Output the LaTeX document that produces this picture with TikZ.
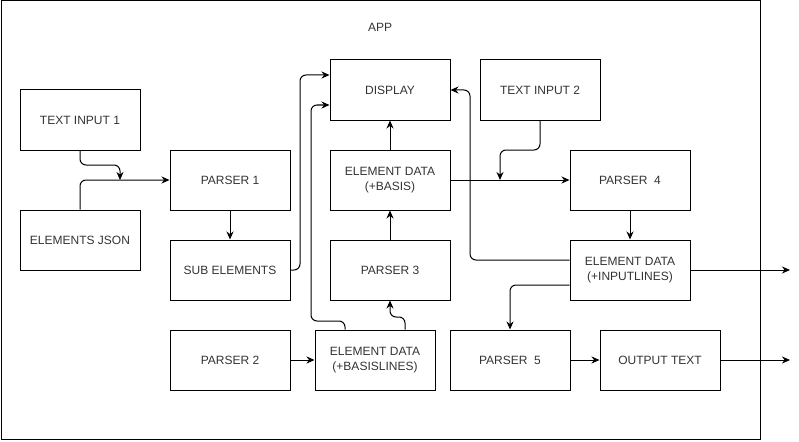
\documentclass[tikz,border=0pt]{standalone}
\usepackage{fontspec}
\setmainfont{Liberation Sans}
\usetikzlibrary{arrows.meta,calc}
\begin{document}
\begin{tikzpicture}[x=1pt,y=-1pt,
  box/.style={draw,line width=1pt,minimum width=120pt,minimum height=60pt,inner sep=0pt,align=center,text=black!80,font=\fontsize{12}{15}\selectfont},
  conn/.style={line width=1pt,rounded corners=6pt,-{Stealth[length=8pt,width=7pt]}},
  lab/.style={text=black!80,font=\fontsize{12}{15}\selectfont}]
\useasboundingbox (0,0) rectangle (799,441);
\draw[line width=1pt] (1,1) rectangle (760,439);
\node[lab] (app) at (380,27) {APP};
\node[box] (tin1) at (80,120) {TEXT INPUT 1};
\node[box] (ejson) at (80,240) {ELEMENTS JSON};
\node[box] (p1) at (230,180) {PARSER 1};
\node[box] (sub) at (230,270) {SUB ELEMENTS};
\node[box] (p2) at (230,360) {PARSER 2};
\node[box] (disp) at (390,90) {DISPLAY};
\node[box] (eb) at (390,180) {ELEMENT DATA\\(+BASIS)};
\node[box] (p3) at (390,270) {PARSER 3};
\node[box] (ebl) at (375,360) {ELEMENT DATA\\(+BASISLINES)};
\node[box] (tin2) at (540,90) {TEXT INPUT 2};
\node[box] (p4) at (630,180) {PARSER \ 4};
\node[box] (eil) at (630,270) {ELEMENT DATA\\(+INPUTLINES)};
\node[box] (p5) at (510,360) {PARSER \ 5};
\node[box] (out) at (660,360) {OUTPUT TEXT};
\coordinate (o1) at (790,270);
\coordinate (o2) at (790,360);
% connectors
\draw[conn] (tin1.south) -- (80,165) -- (120,165) -- (120,180);
\draw[conn] (ejson.north) |- (p1.west);
\draw[conn] (p1.south) -- (sub.north);
\draw[conn] (sub.east) -- (300,270) -- (300,75) -- ([yshift=15pt]disp.west);
\draw[conn] ([xshift=-30pt]ebl.north) -- (345,321) -- (311,321) -- (311,105) -- ([yshift=-15pt]disp.west);
\draw[conn] ([xshift=30pt]ebl.north) -- (405,317) -- (390,317) -- (p3.south);
\draw[conn] (p2.east) -- (ebl.west);
\draw[conn] (p3.north) -- (eb.south);
\draw[conn] (eb.north) -- (disp.south);
\draw[conn] (eb.east) -- (p4.west);
\draw[conn] (tin2.south) -- (540,150) -- (500,150) -- (500,180);
\draw[conn] ([yshift=10pt]eil.west) -- (470,260) -- (470,90) -- (disp.east);
\draw[conn] (p4.south) -- (eil.north);
\draw[conn] ([yshift=-15pt]eil.west) -| (p5.north);
\draw[conn] (eil.east) -- (o1);
\draw[conn] (p5.east) -- (out.west);
\draw[conn] (out.east) -- (o2);
\end{tikzpicture}
\end{document}
